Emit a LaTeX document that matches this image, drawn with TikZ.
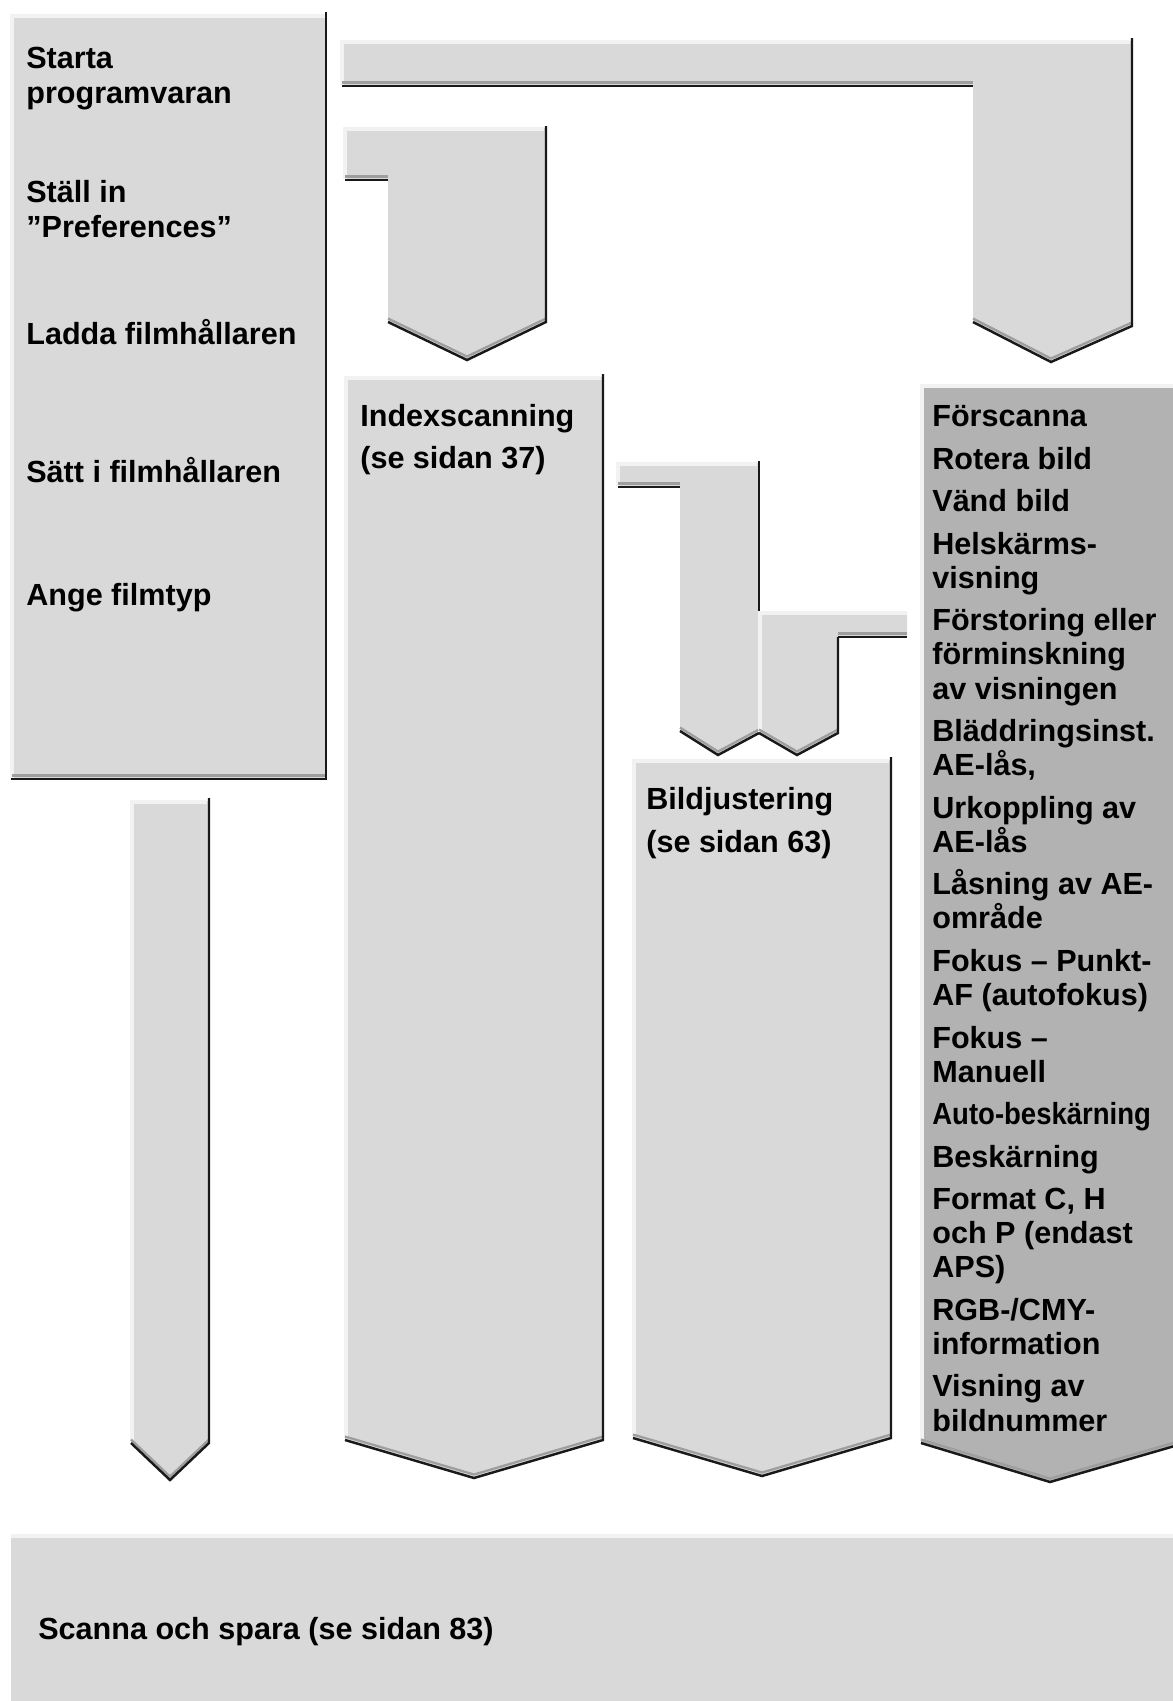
\documentclass[tikz,border=0pt]{standalone}
\usepackage{fontspec}
\setmainfont{Liberation Sans}
\usetikzlibrary{positioning}
\definecolor{ljusgra}{gray}{0.85}
\definecolor{mellangra}{gray}{0.70}
\definecolor{kantgra}{gray}{0.62}
\definecolor{toppvit}{gray}{0.95}
\tikzset{
  platta/.style={
    fill=ljusgra
  },
  mork/.style={
    fill=mellangra
  },
  kant/.style={
    draw=black!90,
    line width=1.4pt
  },
  skugga/.style={
    draw=kantgra,
    line width=1.3pt,
    yshift=0.07cm
  },
  ljuskant/.style={
    draw=toppvit,
    line width=2.5pt
  },
  rubrik/.style={
    anchor=base west,
    align=left,
    inner sep=0pt,
    font=\bfseries\fontsize{17.4}{19.4}\selectfont
  }
}

\begin{document}
\begin{tikzpicture}[x=0.02cm, y=-0.02cm]
\useasboundingbox (0,0) rectangle (1173,1701);

% stegen till vänster
\fill[platta] (11,15) rectangle (326,779);
\draw[ljuskant] (12,778) -- (12,16) -- (325,16);
\draw[skugga] (12,779) -- (325,779);
\draw[kant] (11,779) -- (326,779) -- (326,12);

% pil: starta -> förscanna
\fill[platta] (342,41) -- (1132,41) -- (1132,326) -- (1051,362) -- (973,322) -- (973,86) -- (342,86) -- cycle;
\draw[ljuskant] (342,85) -- (342,42) -- (1130,42);
\draw[skugga] (342,86) -- (973,86);
\draw[skugga] (973,322) -- (1051,362) -- (1132,326);
\draw[kant] (342,86) -- (973,86);
\draw[kant] (973,322) -- (1051,362) -- (1132,326) -- (1132,38);

% pil: ställ in -> indexscanning
\fill[platta] (345,128) -- (546,128) -- (546,322) -- (467,360) -- (388,322) -- (388,180) -- (345,180) -- cycle;
\draw[ljuskant] (345,179) -- (345,129) -- (544,129);
\draw[skugga] (345,180) -- (388,180);
\draw[skugga] (388,322) -- (467,360) -- (546,322);
\draw[kant] (345,180) -- (388,180);
\draw[kant] (388,322) -- (467,360) -- (546,322) -- (546,126);

% kolumn: indexscanning
\fill[platta] (345,377) -- (603,377) -- (603,1440) -- (474,1478) -- (345,1440) -- cycle;
\draw[ljuskant] (346,1438) -- (346,378) -- (601,378);
\draw[skugga] (345,1440) -- (474,1478) -- (603,1440);
\draw[kant] (345,1440) -- (474,1478) -- (603,1440) -- (603,374);

% pil nedåt till vänster
\fill[platta] (131,801) -- (209,801) -- (209,1443) -- (170,1480) -- (131,1443) -- cycle;
\draw[ljuskant] (132,1441) -- (132,802) -- (207,802);
\draw[skugga] (131,1443) -- (170,1480) -- (209,1443);
\draw[kant] (131,1443) -- (170,1480) -- (209,1443) -- (209,798);

% pil: indexscanning -> bildjustering
\fill[platta] (618,463) -- (759,463) -- (759,733) -- (718,755) -- (680,731) -- (680,487) -- (618,487) -- cycle;
\draw[ljuskant] (618,486) -- (618,464) -- (757,464);
\draw[skugga] (618,487) -- (680,487);
\draw[skugga] (680,731) -- (718,755) -- (759,733);
\draw[kant] (618,487) -- (680,487);
\draw[kant] (680,731) -- (718,755) -- (759,733);
\draw[kant] (759,461) -- (759,612);

% pil: funktioner -> bildjustering
\fill[platta] (759,612) -- (907,612) -- (907,637) -- (838,637) -- (838,733) -- (797,755) -- (759,733) -- cycle;
\draw[ljuskant] (760,732) -- (760,613) -- (907,613);
\draw[skugga] (907,637) -- (838,637);
\draw[skugga] (759,733) -- (797,755) -- (838,733);
\draw[kant] (907,637) -- (838,637);
\draw[kant] (759,733) -- (797,755) -- (838,733) -- (838,637);

% kolumn: bildjustering
\fill[platta] (633,760) -- (891,760) -- (891,1438) -- (762,1476) -- (633,1438) -- cycle;
\draw[ljuskant] (634,1436) -- (634,761) -- (889,761);
\draw[skugga] (633,1438) -- (762,1476) -- (891,1438);
\draw[kant] (633,1438) -- (762,1476) -- (891,1438) -- (891,757);

% kolumn: funktioner
\fill[mork] (921,385) -- (1185,385) -- (1185,1443) -- (1050,1482) -- (921,1443) -- cycle;
\draw[ljuskant] (922,1441) -- (922,386) -- (1185,386);
\draw[skugga] (921,1443) -- (1050,1482) -- (1185,1443);
\draw[kant] (921,1443) -- (1050,1482) -- (1185,1443);

% scanna och spara
\fill[platta] (11,1535) rectangle (1185,1710);
\draw[ljuskant] (11,1536) -- (1185,1536);

% texterna (base = sista radens baslinje)
\node[rubrik] (starta) at (26,103) {Starta\\programvaran};
\node[rubrik] (stall) at (26,237) {Ställ in\\”Preferences”};
\node[rubrik] (ladda) at (26,344) {Ladda filmhållaren};
\node[rubrik] (satt) at (26,482) {Sätt i filmhållaren};
\node[rubrik] (ange) at (26,605) {Ange filmtyp};

\node[rubrik] (index) at (360,468) {Indexscanning\\[4pt](se sidan 37)};
\node[rubrik] (bild) at (646,852) {Bildjustering\\[4.8pt](se sidan 63)};

\node[rubrik] (lista) at (932,1431) {Förscanna\\[4.8pt]
  Rotera bild\\[4.8pt]
  Vänd bild\\[4.8pt]
  Helskärms-\\visning\\[4.8pt]
  Förstoring eller\\förminskning\\av visningen\\[4.8pt]
  Bläddringsinst.\\AE-lås,\\[4.8pt]
  Urkoppling av\\AE-lås\\[4.8pt]
  Låsning av AE-\\område\\[4.8pt]
  Fokus – Punkt-\\AF (autofokus)\\[4.8pt]
  Fokus –\\Manuell\\[4.8pt]
  \scalebox{0.9}[1]{Auto-beskärning}\\[4.8pt]
  Beskärning\\[4.8pt]
  Format C, H\\och P (endast\\APS)\\[4.8pt]
  RGB-/CMY-\\information\\[4.8pt]
  Visning av\\bildnummer};

\node[rubrik] (scanna) at (38,1639) {Scanna och spara (se sidan 83)};
\end{tikzpicture}
\end{document}
